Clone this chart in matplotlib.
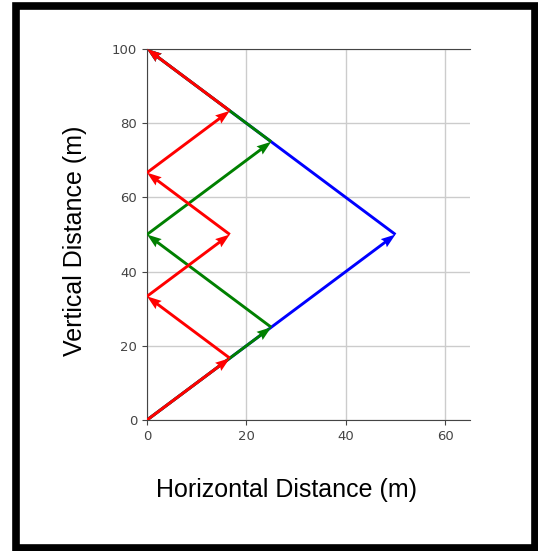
import matplotlib
matplotlib.use("Agg")
import matplotlib.pyplot as plt
from matplotlib.patches import Rectangle
import numpy as np

# Path vertices for each vector chain (x, y in metres)
blue_x = [0, 50, 0]
blue_y = [0, 50, 100]
green_x = [0, 25, 0, 25, 0]
green_y = [0, 25, 50, 75, 100]
red_x = [0, 50/3, 0, 50/3, 0, 50/3, 0]
red_y = [0, 50/3, 100/3, 50, 200/3, 250/3, 100]

x_ticks = [0, 20, 40, 60]
y_ticks = [0, 20, 40, 60, 80, 100]

W, H = 538, 551
fig = plt.figure(figsize=(W/100, H/100), dpi=100)
ax = fig.add_axes([147/W, 1-420/H, (470-147)/W, (420-49)/H])

def chain(xs, ys, color):
    xs = np.array(xs, float); ys = np.array(ys, float)
    ax.quiver(xs[:-1], ys[:-1], np.diff(xs), np.diff(ys), angles='xy',
              scale_units='xy', scale=1, color=color, width=0.009,
              headwidth=3.5, headlength=5, headaxislength=4.5, zorder=3)

chain(blue_x, blue_y, 'blue')
chain(green_x, green_y, 'green')
chain(red_x, red_y, 'red')

ax.set_xlim(0, 65)
ax.set_ylim(0, 100)
ax.set_xticks(x_ticks)
ax.set_yticks(y_ticks)
ax.grid(True, color='#cccccc', linewidth=1)
ax.set_axisbelow(True)
for s in ['left', 'bottom', 'top']:
    ax.spines[s].set_color('#444444')
ax.spines['right'].set_visible(False)
ax.tick_params(labelsize=9.5, colors='#444444', labelcolor='#444444')

fig.text(286/W, 1-490/H, 'Horizontal Distance (m)', ha='center', va='center',
         fontsize=18, family='Liberation Sans')
fig.text(75/W, 1-241/H, 'Vertical Distance (m)', ha='center', va='center',
         rotation=90, fontsize=18, family='Liberation Sans')

fig.patches.append(Rectangle((15.5/W, 1-547.5/H), (534.5-15.5)/W, (547.5-6)/H,
                             transform=fig.transFigure, fill=False,
                             edgecolor='black', linewidth=5.5))
fig.savefig('out.png', dpi=100)
